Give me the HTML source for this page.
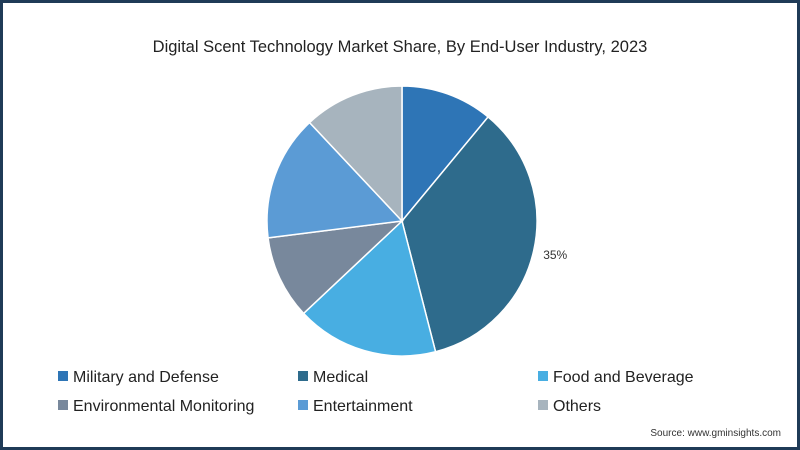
<!DOCTYPE html>
<html><head><meta charset="utf-8"><style>
body{margin:0;width:800px;height:450px;overflow:hidden;background:#fff;font-family:"Liberation Sans",sans-serif}
#frame{position:absolute;left:0;top:0;width:794px;height:444px;border:3px solid #1f3b57;background:#fff}
</style></head><body>
<div id="frame"></div>
<svg id="c" width="800" height="450" style="position:absolute;left:0;top:0">
<text x="400" y="52" text-anchor="middle" font-size="16.5" fill="#222">Digital Scent Technology Market Share, By End-User Industry, 2023</text>
<g id="slices"></g>
<g id="legend"></g>
<text x="781" y="436" text-anchor="end" font-size="10" fill="#333">Source: www.gminsights.com</text>
</svg>
<script>
const categories=["Military and Defense","Medical","Food and Beverage","Environmental Monitoring","Entertainment","Others"];
const values=[11,35,17,10,15,12];
const labels=["","35%","","","",""];
const colors=["#2e75b6","#2e6b8c","#48aee2","#78889c","#5b9bd5","#a7b4be"];
const ns="http://www.w3.org/2000/svg";
const cx=402,cy=221,r=135;
const total=values.reduce((a,b)=>a+b,0);
const g=document.getElementById('slices');
let a0=0;
function pt(a,rr){return [cx+rr*Math.sin(a),cy-rr*Math.cos(a)];}
values.forEach((v,i)=>{
  const a1=a0+v/total*2*Math.PI;
  const p0=pt(a0,r),p1=pt(a1,r);
  const large=(a1-a0)>Math.PI?1:0;
  const p=document.createElementNS(ns,'path');
  p.setAttribute('d',`M${cx},${cy}L${p0[0]},${p0[1]}A${r},${r} 0 ${large} 1 ${p1[0]},${p1[1]}Z`);
  p.setAttribute('fill',colors[i]);p.setAttribute('stroke','#fff');p.setAttribute('stroke-width','1.5');
  
  
  g.appendChild(p);
  if(labels[i]){
    const m=(a0+a1)/2,lp=pt(m,r+22);
    const t=document.createElementNS(ns,'text');
    t.setAttribute('x',lp[0]);t.setAttribute('y',lp[1]+4);t.setAttribute('font-size','12');t.setAttribute('fill','#333');t.setAttribute('text-anchor','middle');
    t.textContent=labels[i];
    
    
    g.appendChild(t);
  }
  a0=a1;
});
const lg=document.getElementById('legend');
const colX=[58,298,538],rowY=[377,406];
categories.forEach((c,i)=>{
  const x=colX[i%3],y=rowY[Math.floor(i/3)];
  const s=document.createElementNS(ns,'rect');
  s.setAttribute('x',x);s.setAttribute('y',y-6);s.setAttribute('width',10);s.setAttribute('height',10);s.setAttribute('fill',colors[i]);
  
  
  lg.appendChild(s);
  const t=document.createElementNS(ns,'text');
  t.setAttribute('x',x+15);t.setAttribute('y',y+5);t.setAttribute('font-size','16');t.setAttribute('fill','#222');
  t.textContent=c;
  
  
  lg.appendChild(t);
});
</script>
</body></html>
